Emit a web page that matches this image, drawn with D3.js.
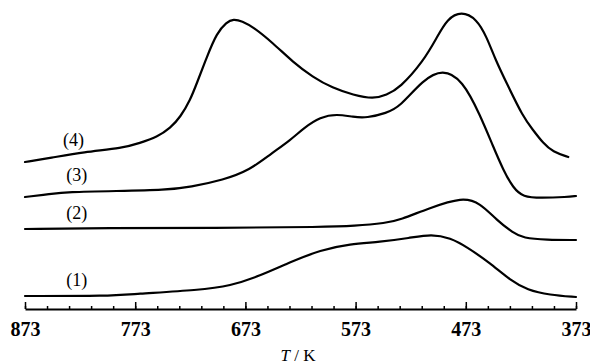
<!DOCTYPE html>
<html><head><meta charset="utf-8">
<script src="https://cdn.jsdelivr.net/npm/d3@7"></script>
<style>body{margin:0;background:#fff}svg{display:block}</style>
</head><body>
<svg id="c" width="590" height="364"></svg>
<script>
// Temperature (K) and signal (arbitrary units) for each trace
const curve1T = [873,796,775,714,687,660,632,605,578,551,524,504,487,472,451,433,417,397,373];
const curve1V = [13,13,15,19,23,33,47,59,65,67,71,75,71,62,46,29,19,14,12];
const curve2T = [873,800,700,600,575,545,533,506,476,460,445,430,421,400,373];
const curve2V = [80,81,81,82,83,86,89,101,112,106,89,76,71,69,69];
const curve3T = [873,850,835,790,745,723,693,669,650,632,620,605,590,575,563,545,533,512,494,476,460,448,439,430,421,405,381,373];
const curve3V = [112,115,117,118,119,122,129,139,155,169,181,192,195,192,191,196,202,229,240,229,194,162,139,121,112,111,112,113];
const curve4T = [873,850,820,784,769,753,741,732,723,717,708,699,690,684,676,666,648,630,612,594,575,557,545,533,512,499,490,477,463,454,446,436,421,412,403,394,380];
const curve4V = [147,151,157,161,166,172,181,192,209,226,252,276,287,290,288,282,266,247,232,221,214,210,214,221,247,272,290,298,290,272,249,226,192,179,166,157,152];
const curveLabels = ["(1)","(2)","(3)","(4)"];
const curveLabelT = [826,826,826,829];
const curveLabelV = [27,94,132,167];
const majorTicks = [873,773,673,573,473,373];
const xTitle = ["T"," / K"];

const svg = d3.select("#c");
const x = d3.scaleLinear().domain([873,373]).range([25,576]);
const y = d3.scaleLinear().domain([0,300]).range([309,9]);

const series = [[curve1T,curve1V],[curve2T,curve2V],[curve3T,curve3V],[curve4T,curve4V]];
const line = d3.line().x(d=>x(d[0])).y(d=>y(d[1])).curve(d3.curveBasis);
series.forEach(([T,V])=>{
  svg.append("path").datum(T.map((t,i)=>[t,V[i]]))
    .attr("d",line).attr("fill","none").attr("stroke","#000")
    .attr("stroke-width",2.2).attr("stroke-linecap","round").attr("stroke-linejoin","round");
});

curveLabels.forEach((l,i)=>{
  svg.append("text").attr("x",x(curveLabelT[i])).attr("y",y(curveLabelV[i]))
    .attr("text-anchor","middle").attr("dominant-baseline","middle")
    .attr("font-family","Liberation Serif").attr("font-size",18).text(l);
});

// minor ticks
const minor = d3.range(873,372,-20);
const gMinor = svg.append("g").attr("transform","translate(0,309)")
  .call(d3.axisBottom(x).tickValues(minor).tickSize(-3).tickFormat(""));
gMinor.select(".domain").remove();
gMinor.selectAll("line").attr("stroke","#000").attr("stroke-width",1.5);

const gx = svg.append("g").attr("transform","translate(0,309)")
  .call(d3.axisBottom(x).tickValues(majorTicks).tickSize(-7).tickSizeOuter(0).tickPadding(13).tickFormat(d3.format("d")));
gx.select(".domain").attr("stroke","#000").attr("stroke-width",1.8);
gx.selectAll("line").attr("stroke","#000").attr("stroke-width",1.5);
gx.selectAll("text").attr("font-family","Liberation Serif").attr("font-size",20)
  .attr("font-weight","bold").attr("fill","#000");

const t = svg.append("text").attr("x",298).attr("y",361).attr("text-anchor","middle")
  .attr("font-family","Liberation Serif").attr("font-size",17);
t.append("tspan").attr("font-style","italic").text(xTitle[0]);
t.append("tspan").text(xTitle[1]);
</script>
</body></html>
